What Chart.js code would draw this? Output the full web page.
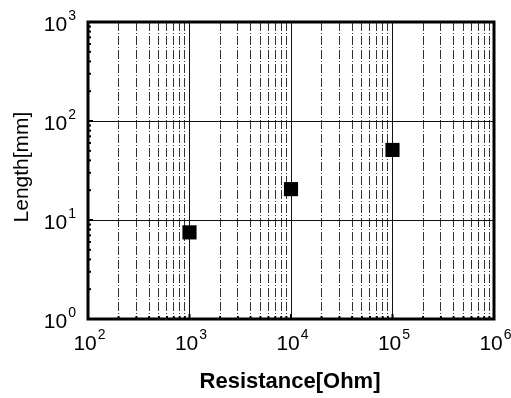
<!DOCTYPE html>
<html>
<head>
<meta charset="utf-8">
<script src="https://cdn.jsdelivr.net/npm/chart.js@4"></script>
<style>
  html, body { margin: 0; padding: 0; background: #fff; }
  #wrap { width: 511px; height: 398px; }
</style>
</head>
<body>
<div id="wrap"><canvas id="chart" width="511" height="398"></canvas></div>
<script>
// data
const resistance = [1000, 10000, 100000];
const length = [7.5, 20.5, 51];

// axis decades and minor multipliers
const xDecades = [100, 1000, 10000, 100000, 1000000];
const xExponents = ['2', '3', '4', '5', '6'];
const yDecades = [1, 10, 100, 1000];
const yExponents = ['0', '1', '2', '3'];
const minorSteps = [2, 3, 4, 5, 6, 7, 8, 9];

function withMinors(decades) {
    const vals = [];
    decades.forEach((d, i) => {
        vals.push(d);
        if (i < decades.length - 1) minorSteps.forEach(m => vals.push(d * m));
    });
    return vals;
}
const xTickValues = withMinors(xDecades);
const yTickValues = withMinors(yDecades);

function isDecade(v) {
    const l = Math.log10(v);
    return Math.abs(l - Math.round(l)) < 1e-9;
}

// frame, inward tick marks and power-of-ten labels
const decorPlugin = {
    id: 'decor',
    afterDraw(chart) {
        const ctx = chart.ctx;
        const area = chart.chartArea;
        const xs = chart.scales.x;
        const ys = chart.scales.y;
        ctx.save();

        // small inward ticks
        ctx.strokeStyle = '#000';
        ctx.lineWidth = 2;
        xTickValues.forEach(v => {
            const px = xs.getPixelForValue(v);
            ctx.beginPath();
            ctx.moveTo(px, area.bottom);
            ctx.lineTo(px, area.bottom - (isDecade(v) ? 5 : 3));
            ctx.stroke();
        });
        yTickValues.forEach(v => {
            const py = ys.getPixelForValue(v);
            ctx.beginPath();
            ctx.moveTo(area.left, py);
            ctx.lineTo(area.left + (isDecade(v) ? 5 : 3), py);
            ctx.stroke();
        });

        // frame
        ctx.lineWidth = 3;
        ctx.strokeRect(area.left, area.top, area.right - area.left, area.bottom - area.top);

        // tick labels
        ctx.fillStyle = '#000';
        ctx.textBaseline = 'alphabetic';
        const big = '21px "Liberation Sans", Arial, sans-serif';
        const small = '14px "Liberation Sans", Arial, sans-serif';

        xDecades.forEach((v, i) => {
            const px = xs.getPixelForValue(v);
            ctx.font = big;
            const w1 = ctx.measureText('10').width;
            ctx.font = small;
            const w2 = ctx.measureText(xExponents[i]).width;
            const x0 = px - (w1 + w2) / 2 + 1;
            const base = area.bottom + 31;
            ctx.font = big;
            ctx.textAlign = 'left';
            ctx.fillText('10', x0, base);
            ctx.font = small;
            ctx.fillText(xExponents[i], x0 + w1 + 1, base - 11);
        });

        yDecades.forEach((v, i) => {
            const py = ys.getPixelForValue(v);
            ctx.font = small;
            const w2 = ctx.measureText(yExponents[i]).width;
            const right = area.left - 12;
            const base = py + 9;
            ctx.textAlign = 'left';
            ctx.fillText(yExponents[i], right - w2, base - 11);
            ctx.font = big;
            ctx.textAlign = 'right';
            ctx.fillText('10', right - w2 - 1, base);
        });

        // axis titles
        ctx.textAlign = 'center';
        ctx.textBaseline = 'middle';
        ctx.font = 'bold 22px "Liberation Sans", Arial, sans-serif';
        ctx.fillText('Resistance[Ohm]', 290, 382);

        ctx.translate(22, 167);
        ctx.rotate(-Math.PI / 2);
        ctx.font = '21px "Liberation Sans", Arial, sans-serif';
        ctx.fillText('Length[mm]', 0, 0);

        ctx.restore();
    }
};

const chart = new Chart(document.getElementById('chart').getContext('2d'), {
    type: 'scatter',
    data: {
        datasets: [{
            label: 'Length',
            data: resistance.map((r, i) => ({ x: r, y: length[i] })),
            pointStyle: 'rect',
            pointRadius: 10,
            pointHoverRadius: 10,
            backgroundColor: '#000',
            borderColor: '#000',
            borderWidth: 0,
            showLine: false
        }]
    },
    options: {
        responsive: false,
        animation: false,
        devicePixelRatio: 1,
        layout: {
            padding: { left: 0, right: 17, top: 22, bottom: 0 }
        },
        plugins: {
            legend: { display: false },
            tooltip: { enabled: false }
        },
        scales: {
            x: {
                type: 'logarithmic',
                min: 100,
                max: 1000000,
                afterBuildTicks: scale => {
                    scale.ticks = xTickValues.map(v => ({ value: v }));
                },
                afterFit: scale => { scale.height = 79; },
                ticks: { display: false },
                border: {
                    display: false,
                    dash: ctx => (ctx.tick && isDecade(ctx.tick.value)) ? [] : [9, 2, 1, 2]
                },
                grid: {
                    drawTicks: false,
                    color: ctx => (ctx.tick && isDecade(ctx.tick.value)) ? '#111' : '#333',
                    lineWidth: 1
                }
            },
            y: {
                type: 'logarithmic',
                min: 1,
                max: 1000,
                afterBuildTicks: scale => {
                    scale.ticks = yTickValues.map(v => ({ value: v }));
                },
                afterFit: scale => { scale.width = 88; },
                ticks: { display: false },
                border: { display: false },
                grid: {
                    drawTicks: false,
                    color: ctx => (ctx.tick && isDecade(ctx.tick.value)) ? '#111' : 'rgba(0,0,0,0)',
                    lineWidth: 1
                }
            }
        }
    },
    plugins: [decorPlugin]
});
</script>
</body>
</html>
